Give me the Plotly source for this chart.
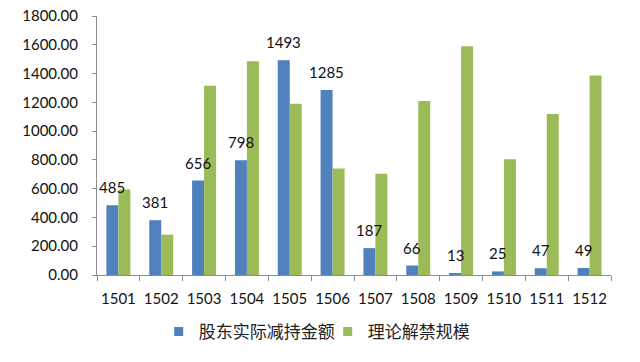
import plotly.graph_objects as go

categories = ["1501", "1502", "1503", "1504", "1505", "1506", "1507", "1508", "1509", "1510", "1511", "1512"]
actual_reduction = [485, 381, 656, 798, 1493, 1285, 187, 66, 13, 25, 47, 49]
theoretical_unlock = [595, 280, 1316, 1486, 1191, 741, 703, 1209, 1590, 804, 1119, 1386]
y_ticks = [0, 200, 400, 600, 800, 1000, 1200, 1400, 1600, 1800]
series_names = ["股东实际减持金额", "理论解禁规模"]
colors = ["#4F81BD", "#9BBB59"]

FONT = "Lato, 'Noto Sans CJK SC', sans-serif"

fig = go.Figure()
fig.add_trace(go.Bar(
    x=categories, y=actual_reduction, name=series_names[0],
    marker=dict(color=colors[0], line=dict(width=0)), showlegend=False,
))
fig.add_trace(go.Bar(
    x=categories, y=theoretical_unlock, name=series_names[1],
    marker=dict(color=colors[1], line=dict(width=0)), showlegend=False,
))
# legend entries with small square keys
for name, c in zip(series_names, colors):
    fig.add_trace(go.Scatter(
        x=[categories[0]], y=[None], mode="markers", name=name,
        marker=dict(symbol="square", size=9, color=c), showlegend=True,
        hoverinfo="skip",
    ))

# value labels above blue bars (x given as category index)
for i, v in enumerate(actual_reduction):
    fig.add_annotation(
        x=i, y=v, text=str(v), showarrow=False,
        xanchor="center", yanchor="bottom", xshift=-6, yshift=7,
        font=dict(size=15, color="#111111", family=FONT),
    )

fig.update_layout(
    width=640, height=362,
    margin=dict(l=97, r=29, t=16, b=78),
    paper_bgcolor="white", plot_bgcolor="white",
    barmode="group", bargap=0.44, bargroupgap=0,
    font=dict(family=FONT, size=15, color="#111111"),
    showlegend=True,
    legend=dict(orientation="h", x=0.12, xanchor="left", y=-0.22, yanchor="middle",
                font=dict(size=17, family=FONT, color="#222222"), itemwidth=30,
                entrywidth=124, entrywidthmode="pixels", traceorder="normal",
                borderwidth=0, bgcolor="rgba(0,0,0,0)"),
    xaxis=dict(
        type="category", categoryorder="array", categoryarray=categories,
        range=[-0.5, len(categories) - 0.5],
        tickangle=0, automargin=False,
        showline=True, linecolor="#8C8C8C", linewidth=1,
        ticks="outside", tickson="boundaries", ticklen=5, tickcolor="#8C8C8C",
        showgrid=False, tickfont=dict(size=15), ticklabelstandoff=10,
    ),
    yaxis=dict(
        range=[0, 1800], tickvals=y_ticks, tickformat=".2f", automargin=False,
        ticklabeloverflow="allow",
        showline=True, linecolor="#8C8C8C", linewidth=1,
        ticks="outside", ticklen=4, tickcolor="#8C8C8C",
        showgrid=False, zeroline=False, tickfont=dict(size=15), ticklabelstandoff=11,
    ),
)

fig.write_html(
    "out.html",
    config={"displayModeBar": False},
    post_script="document.body.style.margin='0';document.body.style.overflow='hidden';",
)
